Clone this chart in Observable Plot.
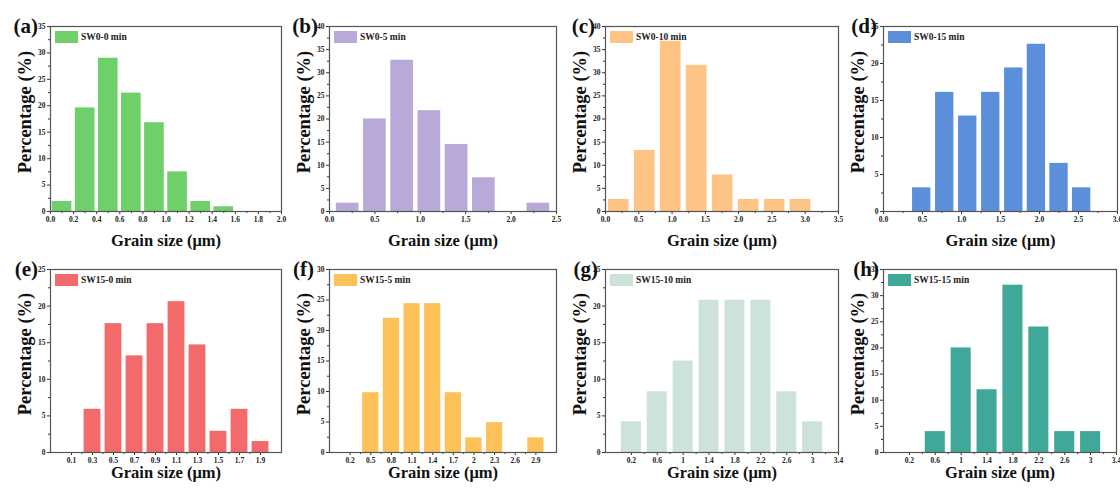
<!DOCTYPE html>
<html><head><meta charset="utf-8">
<script src="https://cdn.jsdelivr.net/npm/d3@7"></script>
<script src="https://cdn.jsdelivr.net/npm/@observablehq/plot@0.6"></script>
<style>
body{margin:0;background:#fff;}
#root{position:relative;width:1120px;height:492px;overflow:hidden;background:#fff;}
#root svg{position:absolute;max-width:none;}
</style></head><body><div id="root"></div>
<script>
// ---- data ----
const panelLetters = ["(a)","(b)","(c)","(d)","(e)","(f)","(g)","(h)"];
const sampleNames = ["SW0-0 min","SW0-5 min","SW0-10 min","SW0-15 min","SW15-0 min","SW15-5 min","SW15-10 min","SW15-15 min"];
const barColors = ["#6fcf6b","#b9a9d8","#fdc486","#5b8fd9","#f26a6a","#fcc157","#cde3da","#3fa898"];
const xLabel = "Grain size (μm)";
const yLabel = "Percentage (%)";

const centersA = [0.1,0.3,0.5,0.7,0.9,1.1,1.3,1.5];
const valuesA  = [1.9,19.6,29.0,22.4,16.8,7.5,1.9,0.9];
const centersB = [0.2,0.5,0.8,1.1,1.4,1.7,2.3];
const valuesB  = [1.8,20.0,32.7,21.8,14.5,7.3,1.8];
const centersC = [0.2,0.59,0.98,1.37,1.76,2.15,2.54,2.93];
const valuesC  = [2.6,13.2,36.8,31.6,7.9,2.6,2.6,2.6];
const centersD = [0.49,0.785,1.08,1.375,1.67,1.96,2.25,2.54];
const valuesD  = [3.2,16.1,12.9,16.1,19.4,22.6,6.5,3.2];
const centersE = [0.3,0.5,0.7,0.9,1.1,1.3,1.5,1.7,1.9];
const valuesE  = [5.9,17.6,13.2,17.6,20.6,14.7,2.9,5.9,1.5];
const centersF = [0.5,0.8,1.1,1.4,1.7,2,2.3,2.9];
const valuesF  = [9.8,22.0,24.4,24.4,9.8,2.4,4.9,2.4];
const centersG = [0.2,0.6,1,1.4,1.8,2.2,2.6,3];
const valuesG  = [4.2,8.3,12.5,20.8,20.8,20.8,8.3,4.2];
const centersH = [0.6,1,1.4,1.8,2.2,2.6,3];
const valuesH  = [4,20,12,32,24,4,4];

const xTicksA = [0.0,0.2,0.4,0.6,0.8,1.0,1.2,1.4,1.6,1.8,2.0];
const xTicksB = [0.0,0.5,1.0,1.5,2.0,2.5];
const xTicksC = [0.0,0.5,1.0,1.5,2.0,2.5,3.0,3.5];
const xTicksD = [0.0,0.5,1.0,1.5,2.0,2.5,3.0];
const xTicksE = [0.1,0.3,0.5,0.7,0.9,1.1,1.3,1.5,1.7,1.9];
const xTicksF = [0.2,0.5,0.8,1.1,1.4,1.7,2,2.3,2.6,2.9];
const xTicksG = [0.2,0.6,1,1.4,1.8,2.2,2.6,3,3.4];
const xTicksH = [0.2,0.6,1,1.4,1.8,2.2,2.6,3,3.4];

const xDomains = [[0,2],[0,2.5],[0,3.5],[0,3],[-0.1,2.1],[-0.1,3.2],[-0.2,3.4],[-0.2,3.4]];
const yMax = [35,40,40,25,25,30,25,35];
const barWidths = [0.17,0.25,0.31,0.235,0.16,0.235,0.31,0.31];

// ---- layout ----
const centers = [centersA,centersB,centersC,centersD,centersE,centersF,centersG,centersH];
const values = [valuesA,valuesB,valuesC,valuesD,valuesE,valuesF,valuesG,valuesH];
const xTicks = [xTicksA,xTicksB,xTicksC,xTicksD,xTicksE,xTicksF,xTicksG,xTicksH];
const cellX = [0,280,560,840,0,280,560,840];
const frameL = [50,329,605,883,50,329,605,883];
const frameR = [281,556,838,1117,281,556,838,1116];
const letterR = [38,318,595,877,38,314,598,879];
const FONT = '"Liberation Serif","Times New Roman",serif';
const fmt1 = d3.format(".1f");

const root = document.getElementById("root");
for (let i = 0; i < 8; i++) {
  const row = i < 4 ? 0 : 1;
  const top = row === 0 ? 0 : 246;
  const mTop = row === 0 ? 26 : 23;
  const mBottom = row === 0 ? 35 : 40;
  const left = cellX[i];
  const width = Math.min(frameR[i] + 3, 1120) - left;
  const mLeft = frameL[i] - left;
  const mRight = width - (frameR[i] - left);
  const data = centers[i].map((c, j) => ({c, v: values[i][j]}));
  const w = barWidths[i];
  const tks = xTicks[i];
  const minorX = tks.slice(0, -1).map((t, k) => (t + tks[k + 1]) / 2);
  const yT = d3.range(0, yMax[i] + 0.01, 5);
  const yMinor = d3.range(2.5, yMax[i], 5);
  const fmt = i < 4 ? fmt1 : (d => String(d));
  const letterDx = letterR[i] - frameL[i];
  const color = barColors[i];
  const name = sampleNames[i];
  const letter = panelLetters[i];

  const legendMark = (index, scales, vals, dims) => {
    const g = d3.create("svg:g");
    const x0 = dims.marginLeft, y0 = dims.marginTop;
    g.append("rect").attr("x", x0 + 5).attr("y", y0 + 5).attr("width", 23).attr("height", 12).attr("fill", color);
    g.append("text").attr("x", x0 + 31).attr("y", y0 + 11).attr("dy", "0.35em")
      .attr("text-anchor", "start").attr("font-size", 9.5).attr("font-weight", "bold").attr("fill", "#222").text(name);
    g.append("text").attr("x", x0 + letterDx).attr("y", y0).attr("dy", "0.35em")
      .attr("text-anchor", "end").attr("font-size", 21).attr("font-weight", "bold").attr("fill", "#111").text(letter);
    return g.node();
  };

  const chart = Plot.plot({
    width, height: 246,
    marginLeft: mLeft, marginRight: mRight, marginTop: mTop, marginBottom: mBottom,
    style: {fontFamily: FONT, background: "transparent", overflow: "visible"},
    x: {domain: xDomains[i]},
    y: {domain: [0, yMax[i]]},
    marks: [
      Plot.rectY(data, {x1: d => d.c - w / 2, x2: d => d.c + w / 2, y: "v", fill: color}),
      Plot.axisX({ticks: tks, tickFormat: fmt, tickSize: 3, tickPadding: 2, fontSize: 7.5, fontWeight: "bold", stroke: "#333", fill: "#222", label: null}),
      Plot.axisX({ticks: minorX, tickFormat: () => "", tickSize: 2, stroke: "#333", label: null}),
      Plot.axisY({ticks: yT, tickFormat: d => String(d), tickSize: 3, tickPadding: 2, fontSize: 7.5, fontWeight: "bold", stroke: "#333", fill: "#222", label: null}),
      Plot.axisY({ticks: yMinor, tickFormat: () => "", tickSize: 2, stroke: "#333", label: null}),
      Plot.frame({stroke: "#555", strokeWidth: 1.2}),
      Plot.text([xLabel], {frameAnchor: "bottom", dy: row === 0 ? 34 : 25, text: d => d, fontSize: 16.5, fontWeight: "bold", fill: "#111"}),
      Plot.text([yLabel], {frameAnchor: "left", textAnchor: "middle", dx: -25, dy: -7, rotate: -90, text: d => d, fontSize: 18.5, fontWeight: "bold", fill: "#111"}),
      legendMark
    ]
  });
  chart.style.position = "absolute";
  chart.style.left = left + "px";
  chart.style.top = top + "px";
  root.appendChild(chart);
}
</script>
</body></html>
